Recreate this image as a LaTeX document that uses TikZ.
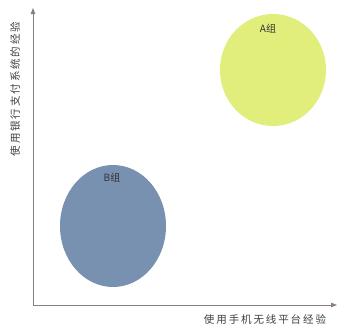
\documentclass[tikz,border=0pt]{standalone}
\usepackage{fontspec}
\newfontfamily\cjk{Noto Sans CJK SC}
\usetikzlibrary{arrows.meta,shapes.geometric}
\definecolor{grpA}{HTML}{E2EE7C}
\definecolor{grpB}{HTML}{7891B0}
\definecolor{axiscol}{HTML}{8A7F80}
\tikzset{
  axisline/.style={draw=axiscol, line width=0.9pt, -{Triangle[length=6pt,width=4.5pt]}},
  groupblob/.style={ellipse, draw=none, inner sep=0pt},
  grouplabel/.style={font=\cjk\fontsize{10}{11}\selectfont, text=black!80},
  axislabel/.style={font=\cjk\fontsize{10.5}{12}\selectfont\addfontfeature{LetterSpace=18}, text=black!75},
}
\begin{document}
\begin{tikzpicture}[x=1pt,y=-1pt]
\useasboundingbox[fill=white] (0,0) rectangle (338,327);
\node[groupblob, fill=grpA, minimum width=106pt, minimum height=112pt] (A) at (273,70) {};
\node[groupblob, fill=grpB, minimum width=106pt, minimum height=122pt] (B) at (113,226) {};
\node[grouplabel] (la) at (268,29) {A组};
\node[grouplabel] (lb) at (112,178) {B组};
\coordinate (O) at (33,305);
\coordinate (Y) at (33,8);
\coordinate (X) at (337,305);
\draw[axisline] (O) -- (Y);
\draw[axisline] (O) -- (X);
\node[axislabel] (xl) at (265,319) {使用手机无线平台经验};
\node[axislabel, rotate=90] (yl) at (15,89) {使用银行支付系统的经验};
\end{tikzpicture}
\end{document}
